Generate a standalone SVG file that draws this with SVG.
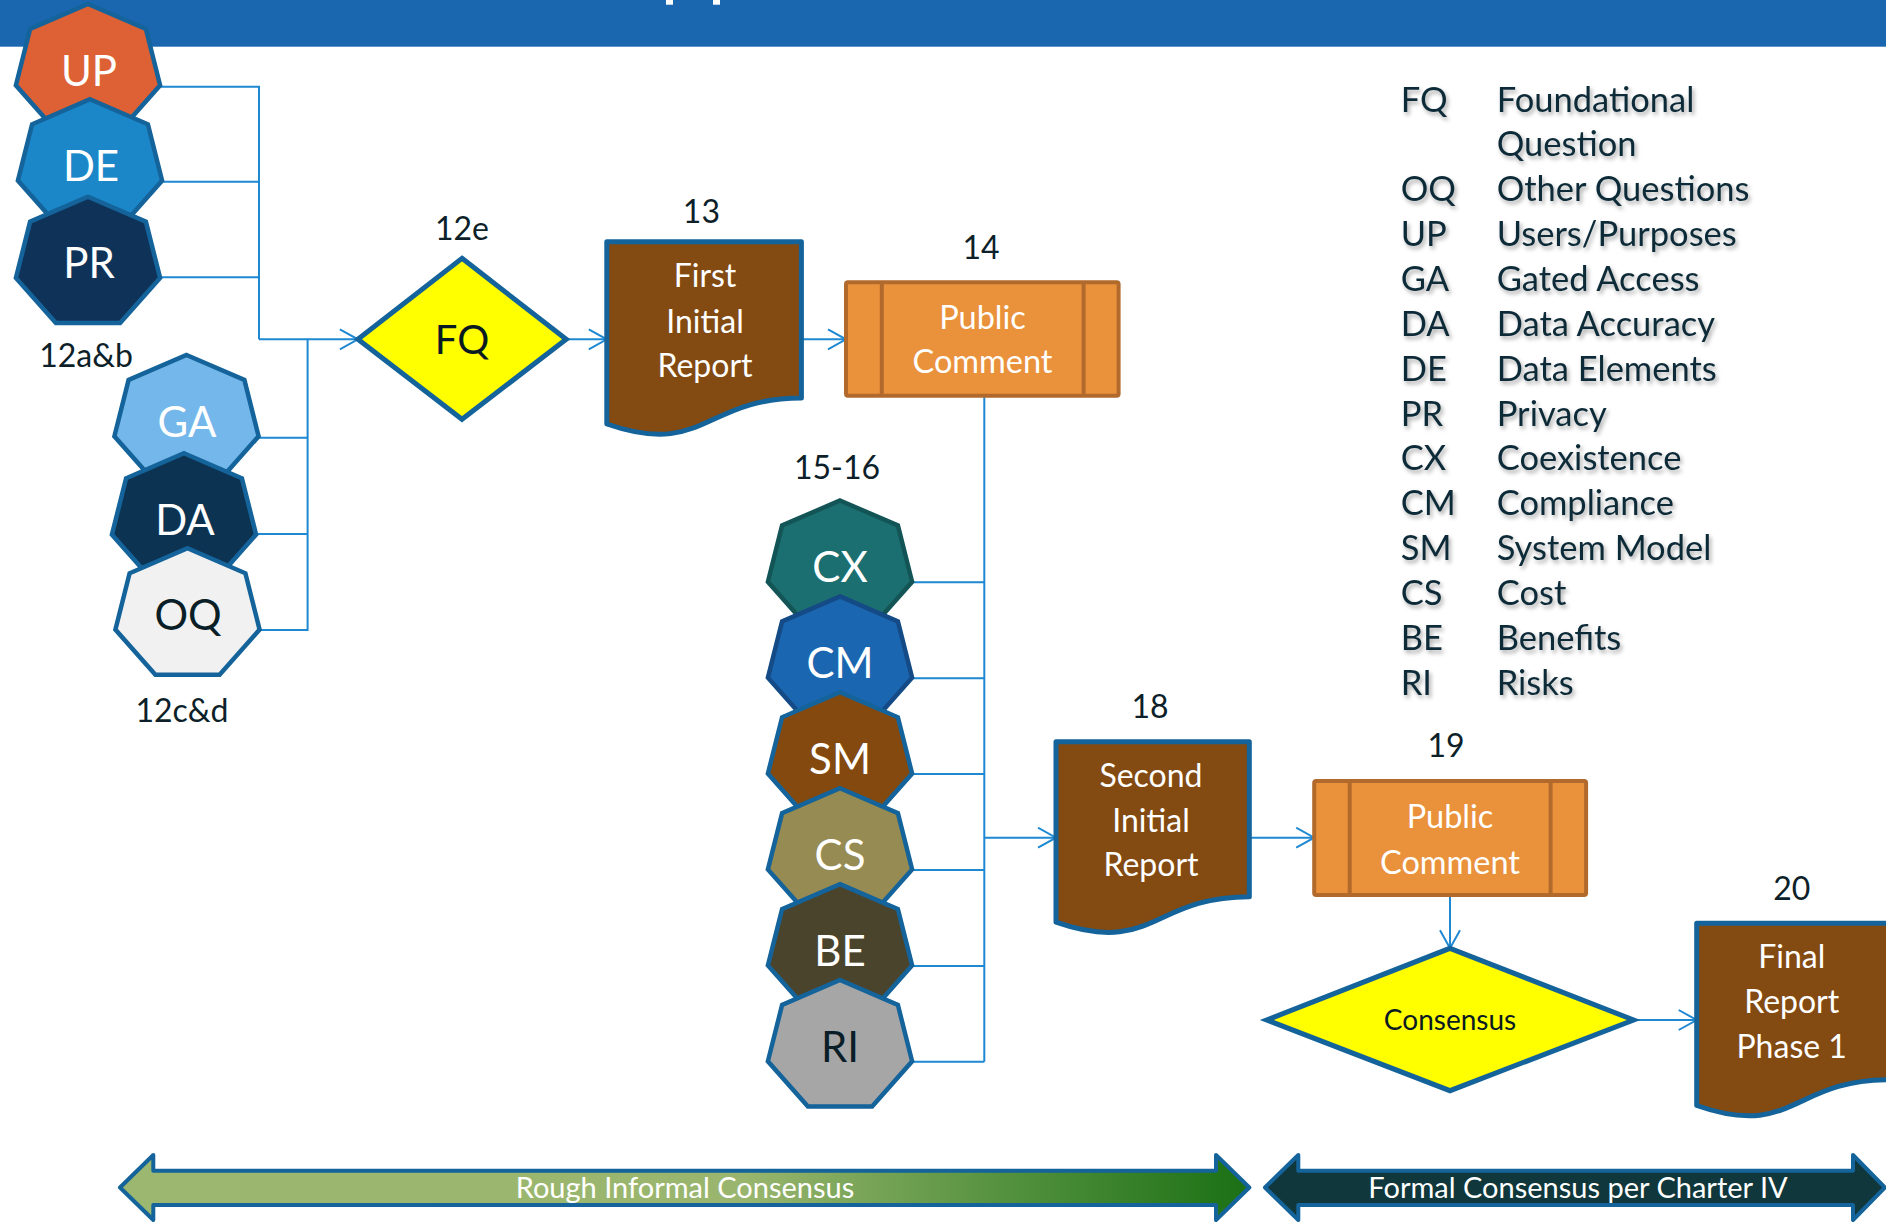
<svg xmlns="http://www.w3.org/2000/svg" xmlns:xlink="http://www.w3.org/1999/xlink" width="1886" height="1223" viewBox="0 0 1886 1223">
<style>
text{font-family:Lato,"Open Sans","Liberation Sans",sans-serif}
.hep{stroke:#14639A;stroke-width:4.5;stroke-linejoin:miter}
.hl{font-size:42px;text-anchor:middle;fill:#fff}
.hd{fill:#0A1E28}
.num{font-size:32px;text-anchor:middle;fill:#0D1F29}
.doc{fill:#834A12;stroke:#14639A;stroke-width:5;stroke-linejoin:round}
.dt{font-size:32px;text-anchor:middle;fill:#fff}
.pc{fill:#EA913B;stroke:#B26A2C;stroke-width:4}
.pct{font-size:32.5px;text-anchor:middle;fill:#fff}
.dia{fill:#FFFF00;stroke:#14639A;stroke-width:5;stroke-linejoin:miter}
.con{fill:none;stroke:#1E88D2;stroke-width:2}
.arw{marker-end:url(#arr)}
.bar{stroke:#14639A;stroke-width:4;stroke-linejoin:round}
.bt{font-size:29px;text-anchor:middle;fill:#fff}
.lg{font-size:34.5px;fill:#0F2B38;filter:url(#sh)}
</style>
<defs>
<path id="hept" d="M0,-66.5 L57.9,-41.5 L72.1,14.8 L32.1,59.9 L-32.1,59.9 L-72.1,14.8 L-57.9,-41.5 Z"/>
<marker id="arr" markerWidth="22" markerHeight="24" refX="19" refY="11" orient="auto" markerUnits="userSpaceOnUse">
<path d="M1,1 L19,11 L1,21" fill="none" stroke="#1E88D2" stroke-width="2"/>
</marker>
<linearGradient id="g1" x1="120" y1="0" x2="1249" y2="0" gradientUnits="userSpaceOnUse">
<stop offset="0" stop-color="#9CB870"/>
<stop offset="0.55" stop-color="#9AB66E"/>
<stop offset="0.78" stop-color="#55923F"/>
<stop offset="1" stop-color="#1B7014"/>
</linearGradient>
<filter id="sh" x="-10%" y="-30%" width="130%" height="180%">
<feDropShadow dx="2" dy="3" stdDeviation="2" flood-color="#000" flood-opacity="0.35"/>
</filter>
</defs>

<g id="banner">
<rect x="0" y="0" width="1886" height="46.7" fill="#1A67B0"/>
<rect x="666" y="0" width="7" height="4.7" fill="#fff"/>
<rect x="713" y="0" width="7" height="4.7" fill="#fff"/>
</g>

<g id="connectors">
<path class="con" d="M160,86.7 H259 V339.3"/>
<path class="con" d="M162,181.7 H259"/>
<path class="con" d="M160,277.3 H259"/>
<path class="con arw" d="M259,339.3 H357.9"/>
<path class="con" d="M259,437.7 H307.6 M256,534 H307.6 M260,630 H307.6 V339.3"/>
<path class="con arw" d="M566.2,339.3 H606.8"/>
<path class="con arw" d="M801.4,339.3 H846"/>
<path class="con" d="M984.3,395.7 V1061.7"/>
<path class="con" d="M913,582.3 H984.3 M913,678.2 H984.3 M913,774.1 H984.3 M913,870 H984.3 M913,965.9 H984.3 M913,1061.7 H984.3"/>
<path class="con arw" d="M984.3,837.7 H1056"/>
<path class="con arw" d="M1249.4,837.7 H1314.2"/>
<path class="con arw" d="M1450,895 V948.3"/>
<path class="con arw" d="M1633.6,1020 H1696.7"/>
</g>

<g id="node-UP"><use href="#hept" x="88" y="70.5" class="hep" fill="#DD6135"/><text class="hl" x="89" y="85.5">UP</text></g>
<g id="node-DE"><use href="#hept" x="90" y="165.8" class="hep" fill="#1B87C9"/><text class="hl" x="91" y="180.8">DE</text></g>
<g id="node-PR"><use href="#hept" x="88" y="263.2" class="hep" fill="#0F3358"/><text class="hl" x="89" y="278.2">PR</text></g>
<g id="label-12ab"><text class="num" x="86" y="366.7">12a&amp;b</text></g>

<g id="node-GA"><use href="#hept" x="186.5" y="421.5" class="hep" fill="#74B7EA"/><text class="hl" x="187" y="436.5">GA</text></g>
<g id="node-DA"><use href="#hept" x="184" y="519.8" class="hep" fill="#0D3352"/><text class="hl" x="185" y="534.8">DA</text></g>
<g id="node-OQ"><use href="#hept" x="187.5" y="614.8" class="hep" fill="#F1F1F1"/><text class="hl hd" x="188" y="629.8">OQ</text></g>
<g id="label-12cd"><text class="num" x="182" y="721.7">12c&amp;d</text></g>

<g id="node-FQ">
<text class="num" x="462" y="240">12e</text>
<polygon class="dia" points="462,258.3 566.2,339.3 462,419.3 357.9,339.3"/>
<text x="462" y="353.5" font-size="40" text-anchor="middle" fill="#0A1A22">FQ</text>
</g>

<g id="node-13">
<text class="num" x="701.4" y="223.3">13</text>
<path class="doc" d="M606.8,241.7 H801.4 V398 C704,398 704,457.7 606.8,424 Z"/>
<text class="dt" x="705" y="287.3">First</text>
<text class="dt" x="705" y="333.3">Initial</text>
<text class="dt" x="705" y="376.7">Report</text>
</g>

<g id="node-14">
<text class="num" x="981" y="259.3">14</text>
<rect class="pc" x="846" y="282.3" width="272.6" height="113.4" rx="2"/>
<path class="pc" d="M881.8,282.3 V395.7 M1083.6,282.3 V395.7" fill="none"/>
<text class="pct" x="982.5" y="329">Public</text>
<text class="pct" x="982.5" y="373.3">Comment</text>
</g>

<g id="label-1516"><text class="num" x="837" y="479.3">15-16</text></g>
<g id="node-CX"><use href="#hept" x="840" y="567" class="hep" fill="#1C6F70" style="stroke:#135556"/><text class="hl" x="840" y="582">CX</text></g>
<g id="node-CM"><use href="#hept" x="840" y="662.9" class="hep" fill="#1A66B0" style="stroke:#144A85"/><text class="hl" x="840" y="677.9">CM</text></g>
<g id="node-SM"><use href="#hept" x="840" y="758.8" class="hep" fill="#84490F"/><text class="hl" x="840" y="773.8">SM</text></g>
<g id="node-CS"><use href="#hept" x="840" y="854.7" class="hep" fill="#968B52"/><text class="hl" x="840" y="869.7">CS</text></g>
<g id="node-BE"><use href="#hept" x="840" y="950.6" class="hep" fill="#4A442D"/><text class="hl" x="840" y="965.6">BE</text></g>
<g id="node-RI"><use href="#hept" x="840" y="1046.5" class="hep" fill="#A6A6A6"/><text class="hl hd" x="840" y="1061.5">RI</text></g>

<g id="node-18">
<text class="num" x="1150" y="718.3">18</text>
<path class="doc" d="M1056,741.7 H1249.3 V896.7 C1152.7,896.7 1152.7,955.8 1056,922.2 Z"/>
<text class="dt" x="1151" y="786.7">Second</text>
<text class="dt" x="1151" y="831.7">Initial</text>
<text class="dt" x="1151" y="876">Report</text>
</g>

<g id="node-19">
<text class="num" x="1446" y="757.3">19</text>
<rect class="pc" x="1314.2" y="781" width="271.9" height="114" rx="2"/>
<path class="pc" d="M1349.7,781 V895 M1550.6,781 V895" fill="none"/>
<text class="pct" x="1450" y="828.3">Public</text>
<text class="pct" x="1450" y="874">Comment</text>
</g>

<g id="node-consensus">
<polygon class="dia" points="1450,948.3 1633.6,1020 1450,1090.7 1266.7,1020"/>
<text x="1450" y="1030" font-size="28" text-anchor="middle" fill="#0A1A22">Consensus</text>
</g>

<g id="node-20">
<text class="num" x="1791.7" y="900">20</text>
<path class="doc" d="M1696.7,923.3 H1889 V1079.7 C1792.8,1079.7 1792.8,1139.3 1696.7,1105.5 Z"/>
<text class="dt" x="1791.7" y="968.3">Final</text>
<text class="dt" x="1791.7" y="1013.3">Report</text>
<text class="dt" x="1791.7" y="1058.3">Phase 1</text>
</g>

<g id="phase-rough">
<path class="bar" fill="url(#g1)" d="M120,1187.5 L153.3,1155 V1170.7 H1216 V1155 L1249.3,1187.5 L1216,1220 V1205 H153.3 V1220 Z"/>
<text class="bt" x="685" y="1198.3">Rough Informal Consensus</text>
</g>
<g id="phase-formal">
<path class="bar" fill="#10373B" d="M1265,1187.5 L1298.3,1155 V1170.7 H1853 V1155 L1885,1187.5 L1853,1220 V1205 H1298.3 V1220 Z"/>
<text class="bt" x="1578" y="1198.3">Formal Consensus per Charter IV</text>
</g>

<g id="legend">
<text class="lg" x="1400.7" y="111.5">FQ</text><text class="lg" x="1496.7" y="111.5">Foundational</text>
<text class="lg" x="1496.7" y="156.4">Question</text>
<text class="lg" x="1400.7" y="201.2">OQ</text><text class="lg" x="1496.7" y="201.2">Other Questions</text>
<text class="lg" x="1400.7" y="246.1">UP</text><text class="lg" x="1496.7" y="246.1">Users/Purposes</text>
<text class="lg" x="1400.7" y="290.9">GA</text><text class="lg" x="1496.7" y="290.9">Gated Access</text>
<text class="lg" x="1400.7" y="335.8">DA</text><text class="lg" x="1496.7" y="335.8">Data Accuracy</text>
<text class="lg" x="1400.7" y="380.6">DE</text><text class="lg" x="1496.7" y="380.6">Data Elements</text>
<text class="lg" x="1400.7" y="425.5">PR</text><text class="lg" x="1496.7" y="425.5">Privacy</text>
<text class="lg" x="1400.7" y="470.3">CX</text><text class="lg" x="1496.7" y="470.3">Coexistence</text>
<text class="lg" x="1400.7" y="515.2">CM</text><text class="lg" x="1496.7" y="515.2">Compliance</text>
<text class="lg" x="1400.7" y="560">SM</text><text class="lg" x="1496.7" y="560">System Model</text>
<text class="lg" x="1400.7" y="604.9">CS</text><text class="lg" x="1496.7" y="604.9">Cost</text>
<text class="lg" x="1400.7" y="649.7">BE</text><text class="lg" x="1496.7" y="649.7">Benefits</text>
<text class="lg" x="1400.7" y="694.6">RI</text><text class="lg" x="1496.7" y="694.6">Risks</text>
</g>
</svg>
